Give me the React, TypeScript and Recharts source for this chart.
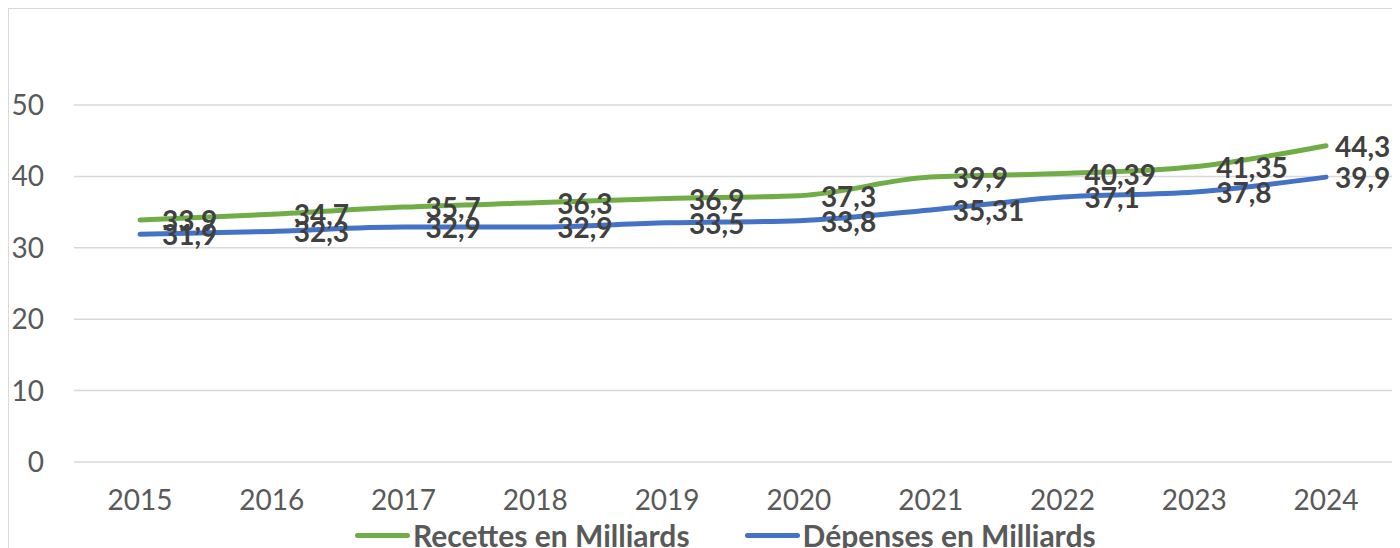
import { CartesianGrid, LabelList, Line, LineChart, XAxis, YAxis } from 'recharts';

const years = ['2015', '2016', '2017', '2018', '2019', '2020', '2021', '2022', '2023', '2024'];
const recettes = [33.9, 34.7, 35.7, 36.3, 36.9, 37.3, 39.9, 40.39, 41.35, 44.3];
const depenses = [31.9, 32.3, 32.9, 32.9, 33.5, 33.8, 35.31, 37.1, 37.8, 39.9];
const yTicks = [0, 10, 20, 30, 40, 50];

const GREEN = '#70AD47';
const BLUE = '#4472C4';
const FONT = 'Lato, "Open Sans", sans-serif';

const data = years.map((year, i) => ({ year, recettes: recettes[i], depenses: depenses[i] }));

const fmt = (v: number) => String(v).replace('.', ',');

const renderLabel = (props: any) => {
  const { x, y, value, index } = props;
  // last label sits closer to the line end so it stays inside the frame
  const dx = index === years.length - 1 ? 9 : 22;
  return (
    <text
      x={x + dx}
      y={y}
      dominantBaseline="central"
      textAnchor="start"
      fill="#404040"
      fontSize={28}
      fontWeight={700}
      fontFamily={FONT}
    >
      {fmt(value)}
    </text>
  );
};

const LegendItem = ({ color, label }: { color: string; label: string }) => (
  <div style={{ display: 'flex', alignItems: 'center' }}>
    <div style={{ width: 55, height: 5, borderRadius: 3, background: color, marginRight: 3 }} />
    <span style={{ fontFamily: FONT, fontWeight: 700, fontSize: 30, color: '#595959' }}>{label}</span>
  </div>
);

export default function App() {
  return (
    <div
      style={{
        position: 'relative',
        width: 1383,
        height: 539,
        overflow: 'hidden',
        borderTop: '1px solid #d9d9d9',
        borderLeft: '1px solid #d9d9d9',
      }}
    >
      <LineChart width={1383} height={560} data={data} margin={{ top: 96, right: 0, bottom: 77, left: 0 }}>
        <CartesianGrid vertical={false} stroke="#d9d9d9" strokeWidth={1.5} />
        <XAxis
          dataKey="year"
          height={30}
          padding={{ left: 66, right: 66 }}
          axisLine={false}
          tickLine={false}
          tickSize={0}
          tickMargin={28}
          tick={{ fill: '#595959', fontSize: 28, fontFamily: FONT }}
        />
        <YAxis
          width={65}
          domain={[0, 50]}
          ticks={yTicks}
          axisLine={false}
          tickLine={false}
          tickSize={0}
          tickMargin={30}
          tick={{ fill: '#595959', fontSize: 28, fontFamily: FONT }}
        />
        <Line
          type="monotone"
          dataKey="recettes"
          stroke={GREEN}
          strokeWidth={5}
          strokeLinecap="round"
          dot={false}
          isAnimationActive={false}
        >
          <LabelList dataKey="recettes" content={renderLabel} />
        </Line>
        <Line
          type="monotone"
          dataKey="depenses"
          stroke={BLUE}
          strokeWidth={5}
          strokeLinecap="round"
          dot={false}
          isAnimationActive={false}
        >
          <LabelList dataKey="depenses" content={renderLabel} />
        </Line>
      </LineChart>
      <div
        style={{
          position: 'absolute',
          left: 346,
          top: 508,
          display: 'flex',
          gap: 55,
        }}
      >
        <LegendItem color={GREEN} label="Recettes en Milliards" />
        <LegendItem color={BLUE} label="Dépenses en Milliards" />
      </div>
    </div>
  );
}
